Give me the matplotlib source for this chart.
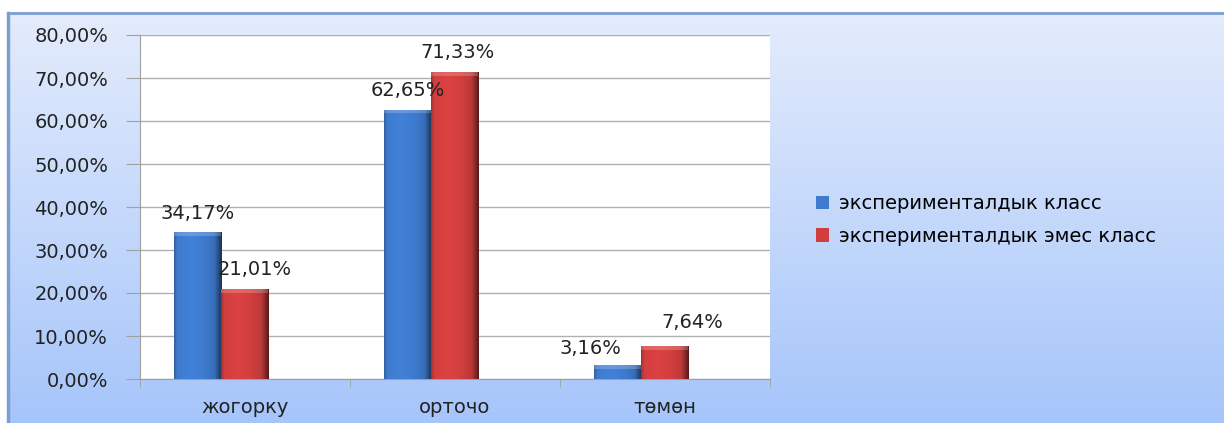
import matplotlib.pyplot as plt
import numpy as np
from matplotlib.patches import Rectangle

categories = ['жогорку', 'орточо', 'төмөн']
series_names = ['экспериментaлдык класс'.replace('a', 'а'), 'экспериментaлдык эмес класс'.replace('a', 'а')]
exp_vals = [34.17, 62.65, 3.16]
nonexp_vals = [21.01, 71.33, 7.64]
yticks = np.arange(0, 81, 10)

# label nudges in pixels (dx, dy)
exp_offsets = [(0, 19), (0, 19), (-27, 17)]
nonexp_offsets = [(10, 19), (3, 20), (28, 24)]

W, H = 1224, 423
fig = plt.figure(figsize=(W / 100, H / 100), dpi=100)
fig.patch.set_facecolor('white')

# gradient background panel
bg = fig.add_axes([8 / W, 0, 1 - 8 / W, (H - 13) / H])
grad = np.linspace(0, 1, 256)[:, None]
top = np.array([228, 236, 252]) / 255
bot = np.array([166, 197, 250]) / 255
img = top[None, None, :] * (1 - grad[:, :, None]) + bot[None, None, :] * grad[:, :, None]
bg.imshow(img, aspect='auto', extent=[0, 1, 0, 1])
bg.set_xlim(0, 1)
bg.set_ylim(0, 1)
bg.set_xticks([])
bg.set_yticks([])
for s in ['right', 'bottom']:
    bg.spines[s].set_visible(False)
bg.spines['top'].set_color('#7a9fd0')
bg.spines['top'].set_linewidth(2)
bg.spines['left'].set_color('#7a9fd0')
bg.spines['left'].set_linewidth(2.5)

ax = fig.add_axes([140 / W, 44 / H, 630 / W, 344 / H])
ax.set_facecolor('white')
x = np.arange(len(categories))
bw = 0.224
shift = -0.114


def shade(color, n=64):
    c = np.array(color) / 255
    t = np.linspace(0, 1, n)
    f = 1.05 - 0.15 * (t - 0.35) ** 2 * 4
    f = np.where(t > 0.85, f - (t - 0.85) * 2.5, f)
    f = np.where(t < 0.06, f - (0.06 - t) * 3, f)
    return np.clip(c[None, :] * f[:, None], 0, 1)[None, :, :]


blue = (62, 122, 205)
red = (208, 62, 62)
fs = 14
for vals, off, col, name, offs in [(exp_vals, shift - bw / 2, blue, series_names[0], exp_offsets),
                                   (nonexp_vals, shift + bw / 2, red, series_names[1], nonexp_offsets)]:
    bars = ax.bar(x + off, vals, bw, color=np.array(col) / 255, edgecolor='none',
                  label=name, zorder=3)
    for b, v, (dx, dy) in zip(bars, vals, offs):
        im = ax.imshow(shade(col), aspect='auto', zorder=3.5,
                       extent=[b.get_x(), b.get_x() + b.get_width(), 0, v])
        im.set_clip_path(b)
        hl = Rectangle((b.get_x(), v - 0.9), b.get_width(), 0.9,
                       facecolor='white', alpha=0.2, edgecolor='none', zorder=4)
        ax.add_patch(hl)
        ax.annotate(f'{v:.2f}%'.replace('.', ','), (b.get_x() + b.get_width() / 2, v),
                    xytext=(dx, dy), textcoords='offset pixels', ha='center', va='center',
                    fontsize=fs, color='#222222', zorder=5)

ax.set_xlim(-0.5, 2.5)
ax.set_ylim(0, 80)
ax.set_yticks(yticks)
ax.set_yticklabels([f'{v:.2f}%'.replace('.', ',') for v in yticks], fontsize=fs, color='#222222')
ax.yaxis.grid(True, color='#b0b0b0', linewidth=1, zorder=0)
ax.tick_params(axis='y', length=10, color='#a0a0a0', pad=13)
ax.set_xticks(x)
ax.set_xticklabels(categories, fontsize=fs, color='#222222')
ax.set_xticks([-0.5, 0.5, 1.5, 2.5], minor=True)
ax.tick_params(axis='x', which='major', length=0, pad=14)
ax.tick_params(axis='x', which='minor', length=6, color='#a0a0a0')
for s in ['top', 'right']:
    ax.spines[s].set_visible(False)
ax.spines['left'].set_color('#a0a0a0')
ax.spines['bottom'].set_color('#a0a0a0')

handles, labels = ax.get_legend_handles_labels()
fig.legend(handles, labels, loc='center left', bbox_to_anchor=(798 / W, (H - 220) / H),
           frameon=False, fontsize=fs, handlelength=0.7, handleheight=0.7,
           handletextpad=0.5, labelspacing=0.7)

fig.savefig('out.png', dpi=100)
